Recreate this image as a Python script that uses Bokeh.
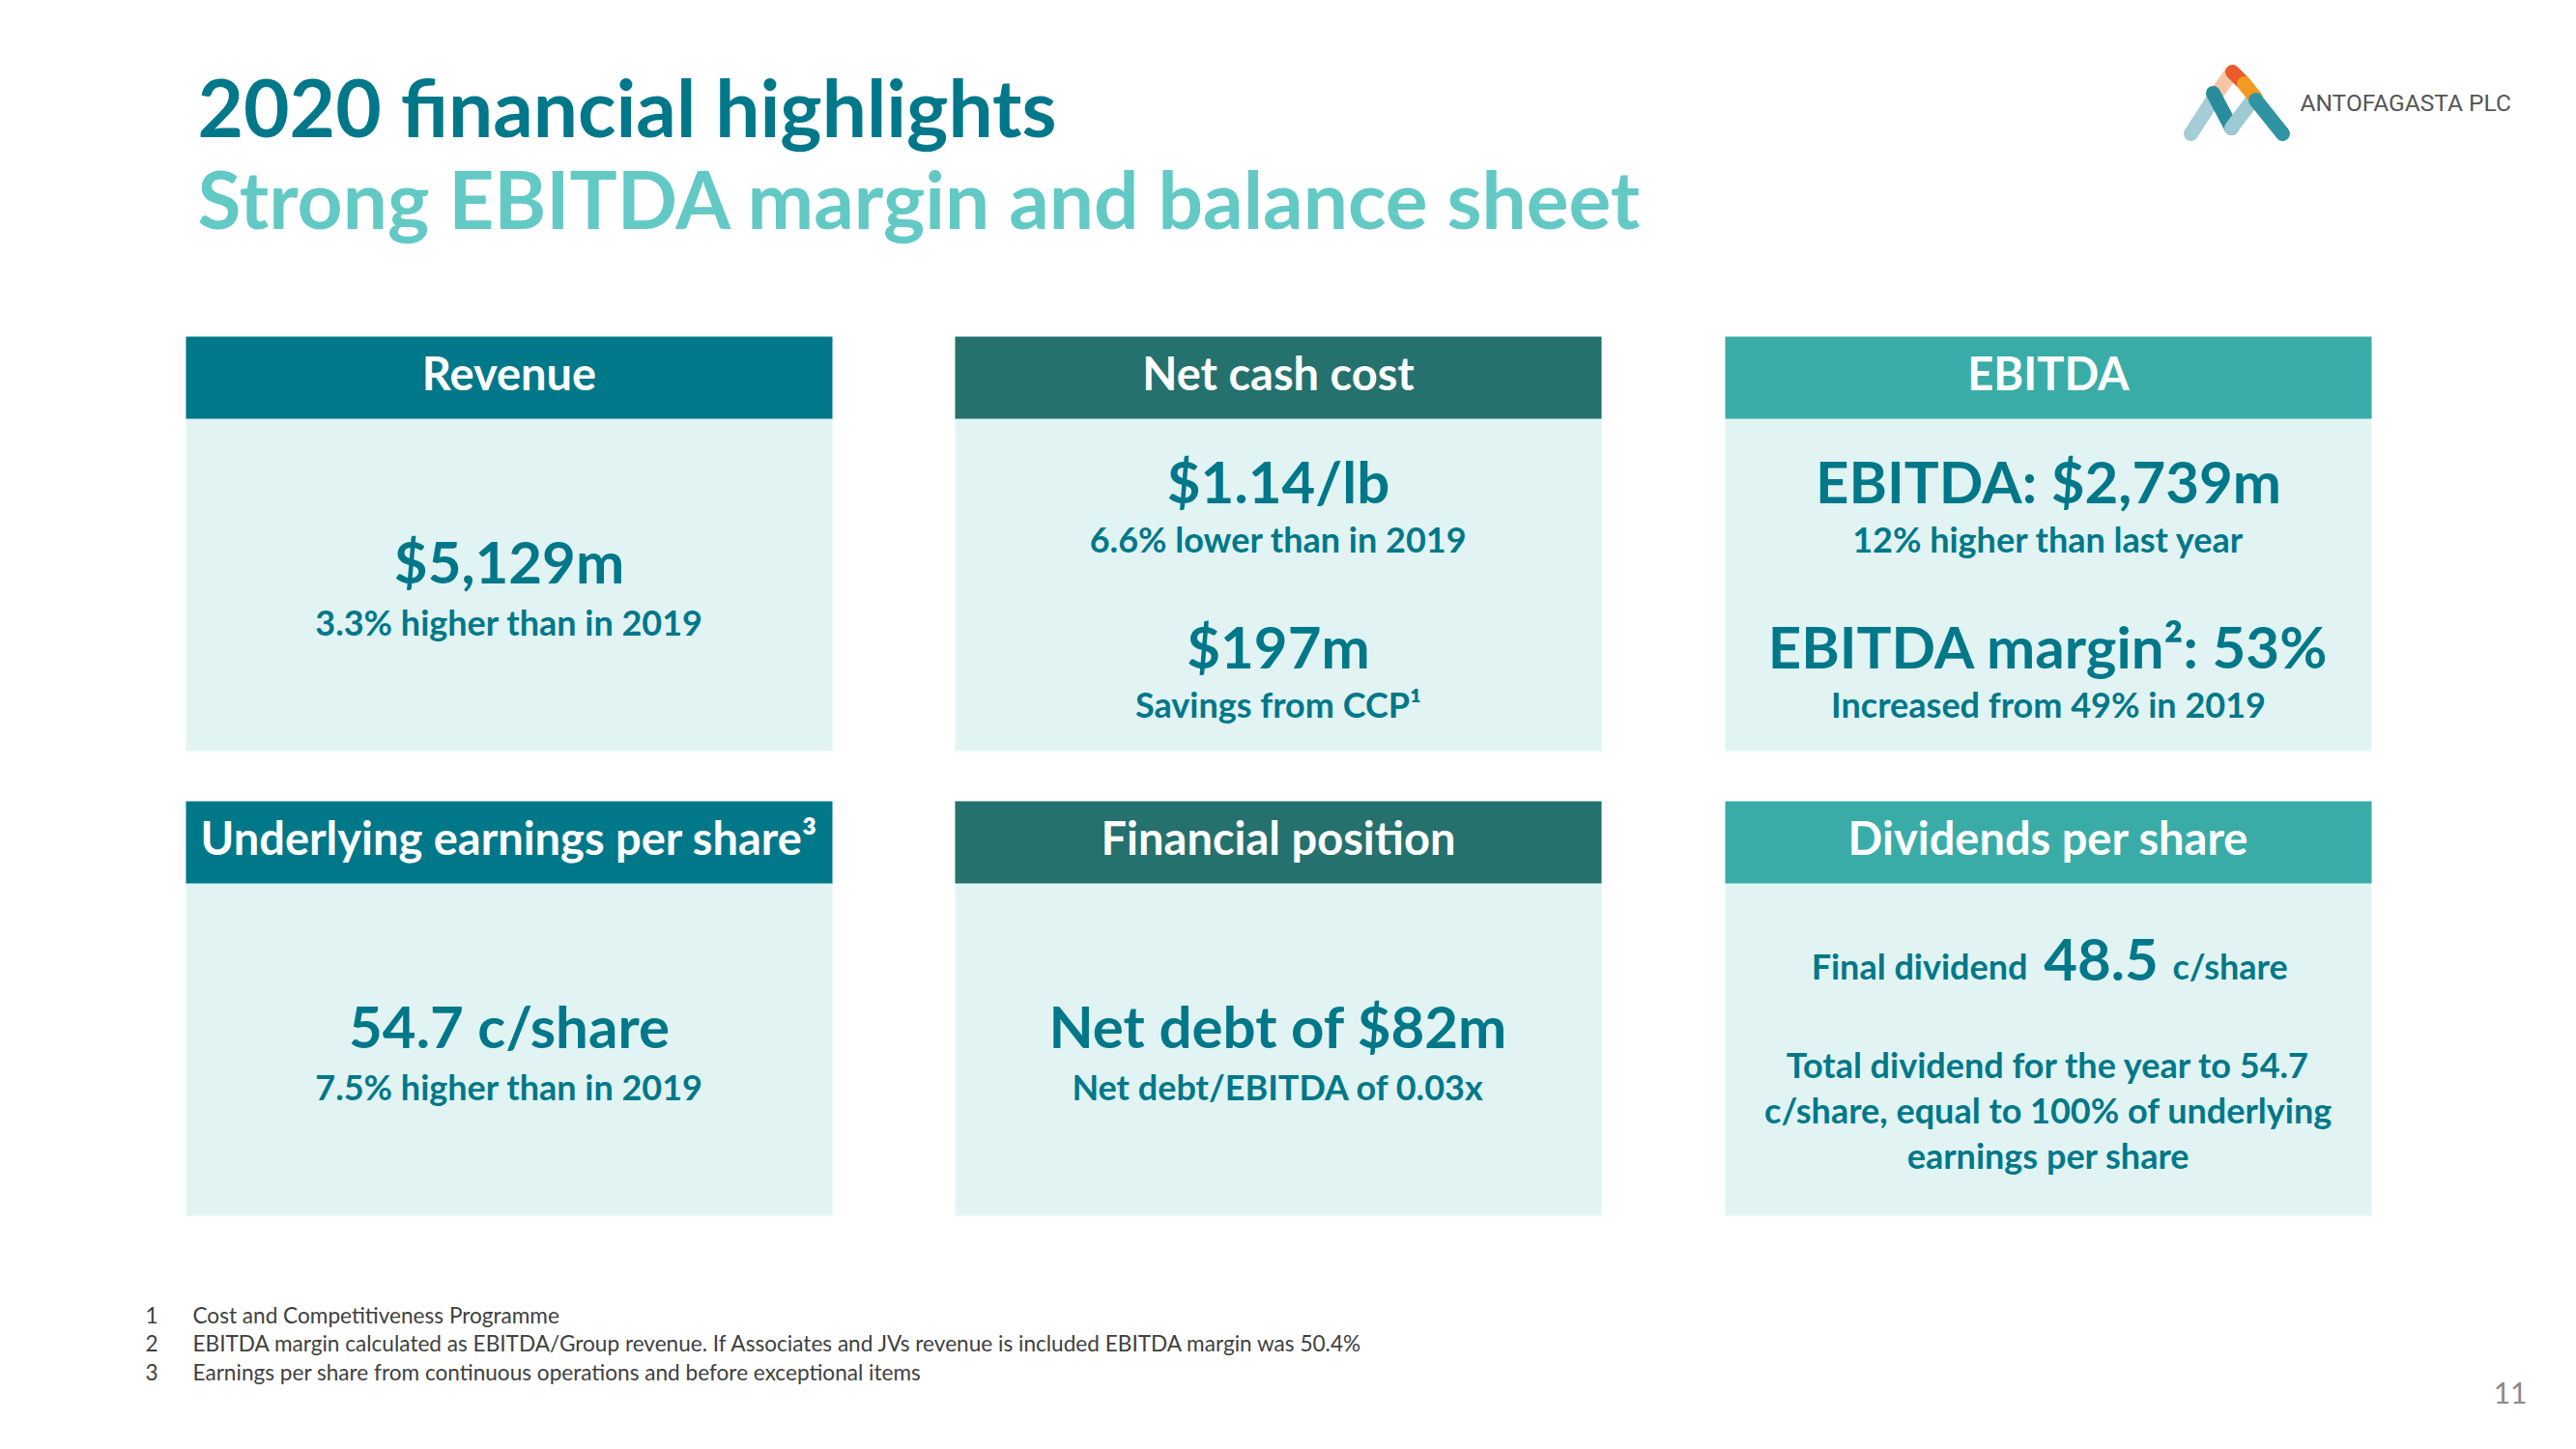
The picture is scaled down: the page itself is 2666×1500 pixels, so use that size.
from bokeh.plotting import figure
from bokeh.models import ColumnDataSource, Range1d
from bokeh.embed import file_html
from bokeh.resources import INLINE
from bokeh.core.properties import value

# ---------------- content ----------------
title_text = "2020 financial highlights"
subtitle_text = "Strong EBITDA margin and balance sheet"

card_titles = ["Revenue", "Net cash cost", "EBITDA",
               "Underlying earnings per share³", "Financial position", "Dividends per share"]
card_header_colors = ["#00788A", "#24716D", "#3AACA8", "#00788A", "#24716D", "#3AACA8"]

revenue_lines = ["$5,129m", "3.3% higher than in 2019"]
cash_cost_lines = ["$1.14/lb", "6.6% lower than in 2019", "$197m", "Savings from CCP¹"]
ebitda_lines = ["EBITDA: $2,739m", "12% higher than last year",
                "EBITDA margin²: 53%", "Increased from 49% in 2019"]
eps_lines = ["54.7 c/share", "7.5% higher than in 2019"]
position_lines = ["Net debt of $82m", "Net debt/EBITDA of 0.03x"]
dividend_parts = ["Final dividend", "48.5", "c/share"]
dividend_lines = ["Total dividend for the year to 54.7",
                  "c/share, equal to 100% of underlying",
                  "earnings per share"]

footnote_nums = ["1", "2", "3"]
footnote_texts = ["Cost and Competitiveness Programme",
                  "EBITDA margin calculated as EBITDA/Group revenue. If Associates and JVs revenue is included EBITDA margin was 50.4%",
                  "Earnings per share from continuous operations and before exceptional items"]
page_number = "11"
logo_text = "ANTOFAGASTA PLC"

# ---------------- styles ----------------
FONT = "Lato"
DARK = "#00788A"
LIGHT = "#63C9C5"
BODY_BG = "#E1F4F3"

W, H = 2650, 1484
p = figure(width=W, height=H, x_range=Range1d(0, W), y_range=Range1d(H, 0),
           output_backend="svg", toolbar_location=None, min_border=0,
           x_axis_type=None, y_axis_type=None)
p.grid.visible = False
p.outline_line_color = None
p.background_fill_color = "white"
p.border_fill_color = "white"

BASE_FIX = 0.37  # empirical baseline correction (fraction of font size)


def add_text(xs, ys, texts, size, color, bold=True, align="center", font=FONT):
    ys = [y - BASE_FIX * size for y in ys]
    src = ColumnDataSource(dict(x=xs, y=ys, t=texts))
    p.text(x="x", y="y", text="t", source=src, text_font=value(font),
           text_font_size=value(f"{size}px"),
           text_font_style="bold" if bold else "normal",
           text_color=color, text_align=align, text_baseline="alphabetic")


# title
add_text([204], [140], [title_text], 82, DARK, align="left")
add_text([204], [235], [subtitle_text], 82, LIGHT, align="left")

# cards
col_left = [192, 988, 1785]
card_w = 669
row_top = [348, 829]
head_h = 85
card_h = 429

lefts, rights, tops, bottoms = [], [], [], []
hl, hr, ht, hb = [], [], [], []
for i in range(6):
    L = col_left[i % 3]
    T = row_top[i // 3]
    lefts.append(L); rights.append(L + card_w); tops.append(T); bottoms.append(T + card_h)
    hl.append(L); hr.append(L + card_w); ht.append(T); hb.append(T + head_h)
p.quad(left=lefts, right=rights, top=tops, bottom=bottoms, fill_color=BODY_BG, line_color=None)
p.quad(left=hl, right=hr, top=ht, bottom=hb, fill_color=card_header_colors, line_color=None)

centers = [col_left[i % 3] + card_w / 2 for i in range(6)]
add_text(centers, [row_top[i // 3] + 55 for i in range(6)], card_titles, 47, "white")

BIG = 60
SUB = 36
# row 1
add_text([centers[0]], [603], [revenue_lines[0]], BIG, DARK)
add_text([centers[0]], [657], [revenue_lines[1]], SUB, DARK)
add_text([centers[1]] * 2, [520, 691], [cash_cost_lines[0], cash_cost_lines[2]], BIG, DARK)
add_text([centers[1]] * 2, [571, 742], [cash_cost_lines[1], cash_cost_lines[3]], SUB, DARK)
add_text([centers[2]] * 2, [520, 691], [ebitda_lines[0], ebitda_lines[2]], BIG, DARK)
add_text([centers[2]] * 2, [571, 742], [ebitda_lines[1], ebitda_lines[3]], SUB, DARK)
# row 2
add_text([centers[3], centers[4]], [1084, 1084], [eps_lines[0], position_lines[0]], BIG, DARK)
add_text([centers[3], centers[4]], [1138, 1138], [eps_lines[1], position_lines[1]], SUB, DARK)
add_text([2098], [1013], [dividend_parts[0]], SUB, DARK, align="right")
add_text([2174], [1015], [dividend_parts[1]], BIG, DARK)
add_text([2248], [1013], [dividend_parts[2]], SUB, DARK, align="left")
add_text([centers[5]] * 3, [1115, 1162, 1209], dividend_lines, SUB, DARK)

# footnotes
add_text([150] * 3, [1369, 1398, 1428], footnote_nums, 22.6, "#404040", bold=False, align="left")
add_text([199] * 3, [1369, 1398, 1428], footnote_texts, 22.6, "#404040", bold=False, align="left")
add_text([2615], [1453], [page_number], 30, "#8A8A8A", bold=False, align="right")

# logo (decorative strokes)
logo_xs = [[2267, 2292], [2292, 2308], [2290, 2309], [2309, 2333], [2310, 2322], [2322, 2334], [2334, 2362]]
logo_ys = [[138, 99], [99, 76], [96, 132], [132, 100], [74, 86], [86, 101], [103, 138]]
logo_cols = ["#A5CDD6", "#F6C6A4", "#2A8C9C", "#9DCAD3", "#EA5A2A", "#F29B22", "#2F93A3"]
p.multi_line(xs=logo_xs, ys=logo_ys, line_color=logo_cols, line_width=15, line_cap="round")
add_text([2380], [115], [logo_text], 24.5, "#555555", bold=False, align="left", font="Roboto")

open("out.html", "w").write(file_html(p, INLINE))
